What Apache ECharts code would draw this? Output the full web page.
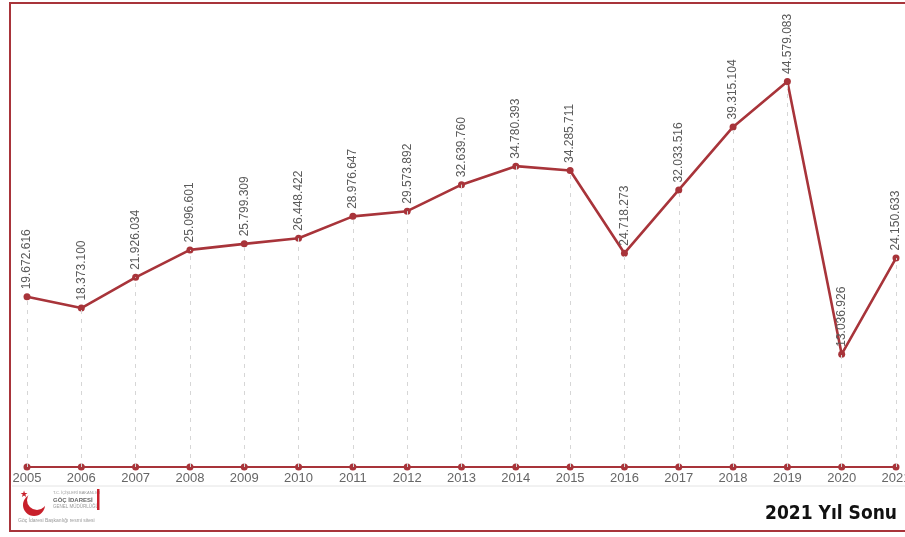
<!DOCTYPE html>
<html>
<head>
<meta charset="utf-8">
<script src="https://cdn.jsdelivr.net/npm/echarts@6/dist/echarts.min.js"></script>
<style>html,body{margin:0;padding:0;background:#fff}#c{width:905px;height:537px}</style>
</head>
<body>
<div id="c"></div>
<script>
const years = ['2005','2006','2007','2008','2009','2010','2011','2012','2013','2014','2015','2016','2017','2018','2019','2020','2021'];
const visitors = [19672616,18373100,21926034,25096601,25799309,26448422,28976647,29573892,32639760,34780393,34285711,24718273,32033516,39315104,44579083,13036926,24150633];
const baseline = [0,0,0,0,0,0,0,0,0,0,0,0,0,0,0,0,0];
const yMax = 50000000;
const footerText = '2021 Yıl Sonu';

const RED = '#a8343a';
function fmt(v){ return String(v).replace(/\B(?=(\d{3})+(?!\d))/g, '.'); }

const dropLines = visitors.map((v,i)=>[{coord:[i,0]},{coord:[i,v]}]);

const chart = echarts.init(document.getElementById('c'));
chart.setOption({
  animation:false,
  backgroundColor:'#fff',
  grid:{left:27,right:9,top:34.5,bottom:70,outerBoundsMode:'none',containLabel:false},
  xAxis:{type:'category',data:years,boundaryGap:false,
    axisLine:{show:false},axisTick:{show:false},splitLine:{show:false},
    axisLabel:{color:'#666',fontSize:13,fontFamily:'Liberation Sans, Arial, sans-serif',margin:5,interval:0}},
  yAxis:{type:'value',min:0,max:yMax,show:false,splitLine:{show:false}},
  series:[
    {type:'line',data:visitors,symbol:'circle',symbolSize:7,z:3,
      lineStyle:{color:RED,width:2.6},itemStyle:{color:RED},
      label:{show:true,position:'top',rotate:90,align:'left',verticalAlign:'middle',distance:4,
        color:'#5a5a5a',fontSize:12,fontFamily:'Liberation Sans, Arial, sans-serif',
        formatter:p=>fmt(p.value)},
      markLine:{silent:true,symbol:'none',label:{show:false},
        lineStyle:{type:[4,5],color:'#d6d6d6',width:1},data:dropLines}},
    {type:'line',data:baseline,symbol:'circle',symbolSize:7,z:3,
      lineStyle:{color:RED,width:2},itemStyle:{color:RED},label:{show:false}}
  ],
  graphic:[
    {type:'rect',shape:{x:10,y:3,width:905,height:528},style:{fill:'none',stroke:RED,lineWidth:2},z:10},
    {type:'line',shape:{x1:12,y1:486,x2:905,y2:486},style:{stroke:'#e4e4e4',lineWidth:1},z:1},
    {type:'text',right:8,top:505,style:{text:footerText,fill:'#111',font:'bold 19px "DejaVu Sans Condensed", "DejaVu Sans", sans-serif'},z:10},
    // logo
    {type:'circle',shape:{cx:34,cy:505,r:11},style:{fill:'#c8202b'},z:10},
    {type:'circle',shape:{cx:37,cy:500,r:10},style:{fill:'#fff'},z:11},
    {type:'text',x:20,y:490,style:{text:'★',fill:'#c8202b',font:'9px "DejaVu Sans"'},z:12},
    {type:'text',x:53,y:491,style:{text:'T.C. İÇİŞLERİ BAKANLIĞI',fill:'#999',font:'4px "Liberation Sans"'},z:10},
    {type:'text',x:53,y:497,style:{text:'GÖÇ İDARESİ',fill:'#666',font:'bold 6px "Liberation Sans"'},z:10},
    {type:'text',x:53,y:504,style:{text:'GENEL MÜDÜRLÜĞÜ',fill:'#999',font:'4.5px "Liberation Sans"'},z:10},
    {type:'rect',shape:{x:97,y:489,width:2.5,height:21},style:{fill:'#c8202b'},z:10},
    {type:'text',x:18,y:518,style:{text:'Göç İdaresi Başkanlığı resmi sitesi',fill:'#999',font:'5px "Liberation Sans"'},z:10}
  ]
});
</script>
</body>
</html>
